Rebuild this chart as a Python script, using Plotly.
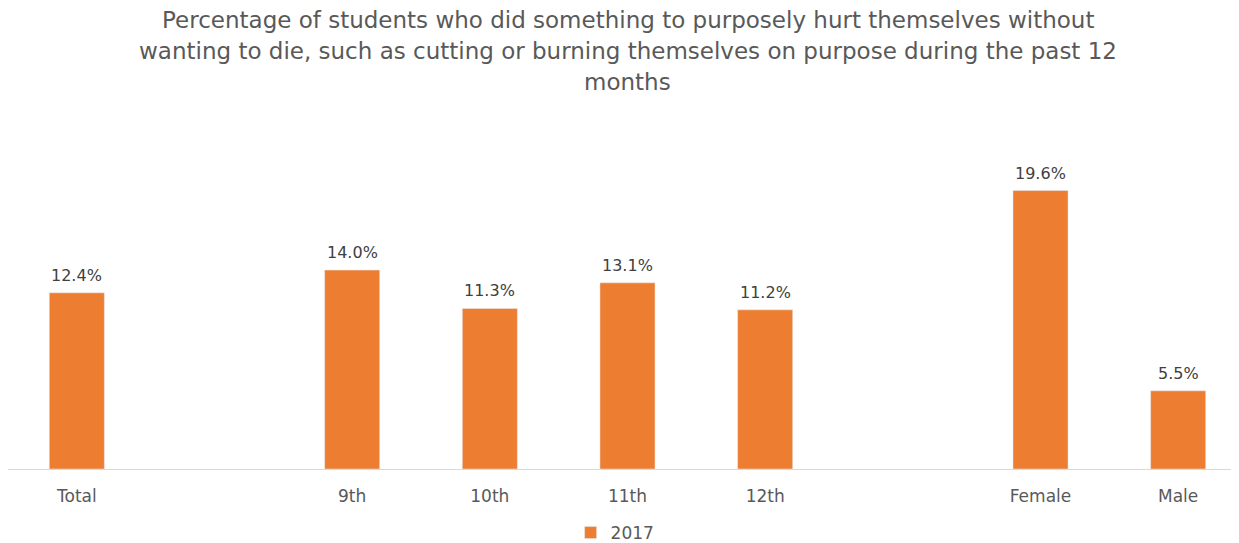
import plotly.graph_objects as go

categories = ["Total", " ", "9th", "10th", "11th", "12th", "  ", "Female", "Male"]
values_2017 = [12.4, None, 14.0, 11.3, 13.1, 11.2, None, 19.6, 5.5]
labels_2017 = ["12.4%", "", "14.0%", "11.3%", "13.1%", "11.2%", "", "19.6%", "5.5%"]
series_name = "2017"
title_lines = [
    "Percentage of students who did something to purposely hurt themselves without",
    "wanting to die, such as cutting or burning themselves on purpose during the past 12",
    "months",
]

FONT = "DejaVu Sans"
GREY = "#595959"

fig = go.Figure()
fig.add_trace(go.Bar(
    x=categories, y=values_2017, name=series_name,
    marker=dict(color="#ED7D31"),
    showlegend=True,
))

# data labels from the data arrays
for cat, val, lab in zip(categories, values_2017, labels_2017):
    if val is None:
        continue
    fig.add_annotation(
        x=cat, y=val, xref="x", yref="y", text=lab, showarrow=False,
        xanchor="center", yanchor="bottom", yshift=6,
        font=dict(family=FONT, size=16, color="#404040"),
    )

for i, line in enumerate(title_lines):
    fig.add_annotation(
        text=line, xref="paper", yref="paper", x=0.5, y=1,
        xanchor="center", yanchor="middle", showarrow=False,
        yshift=108 - 31 * i,
        font=dict(family=FONT, size=23, color=GREY),
    )

fig.update_layout(
    width=1239, height=543,
    margin=dict(l=0, r=0, t=120, b=82),
    paper_bgcolor="white", plot_bgcolor="white",
    bargap=0.6,
    xaxis=dict(
        type="category", categoryorder="array", categoryarray=categories,
        range=[-0.5, 8.5], showline=True, linecolor="#D9D9D9", linewidth=1,
        ticks="", showgrid=False, ticklabelstandoff=12,
        tickfont=dict(family=FONT, size=17, color=GREY),
    ),
    yaxis=dict(range=[0, 24], visible=False, showgrid=False, zeroline=False),
    legend=dict(
        orientation="h", x=0.49, xanchor="center", y=-0.188, yanchor="middle",
        font=dict(family=FONT, size=17, color=GREY),
        itemwidth=30,
    ),
    font=dict(family=FONT),
)

fig.write_html("out.html")
